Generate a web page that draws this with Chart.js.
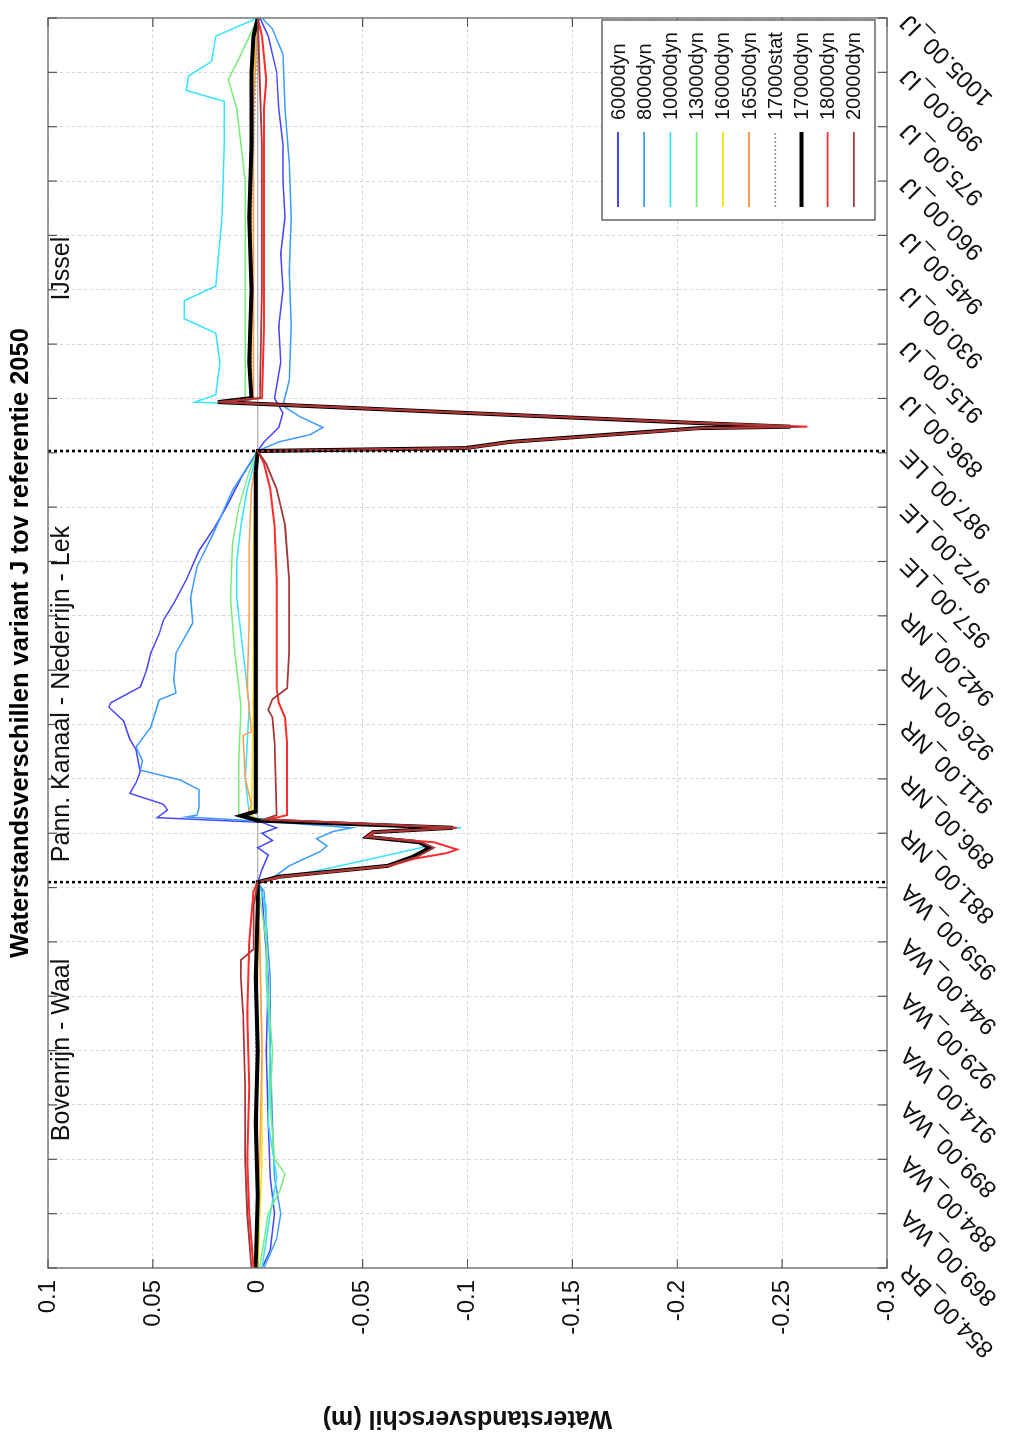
<!DOCTYPE html>
<html>
<head>
<meta charset="utf-8">
<title>Waterstandsverschillen variant J</title>
<script src="https://cdn.jsdelivr.net/npm/chart.js@4.4.0/dist/chart.umd.min.js"></script>
<style>
  html, body { margin: 0; padding: 0; background: #fff; overflow: hidden; }
  /* the figure is shown turned a quarter turn, like the reference */
  #wrap { position: absolute; left: 0; top: 1434px; width: 1434px; height: 1014px;
          transform-origin: 0 0; transform: rotate(-90deg); }
</style>
</head>
<body>
<div id="wrap"><canvas id="chart" width="1434" height="1014"></canvas></div>
<script>
// ===================
// Data
// ===================
const tickLabels = [
  '854.00_BR', '869.00_WA', '884.00_WA', '899.00_WA', '914.00_WA', '929.00_WA', '944.00_WA', '959.00_WA',
  '881.00_NR', '896.00_NR', '911.00_NR', '926.00_NR', '942.00_NR', '957.00_LE', '972.00_LE', '987.00_LE',
  '896.00_IJ', '915.00_IJ', '930.00_IJ', '945.00_IJ', '960.00_IJ', '975.00_IJ', '990.00_IJ', '1005.00_IJ'
];
const tickStep = 15;              // locations between two labels
const lastLocation = 345;

const branchNames = ['Bovenrijn - Waal', 'Pann. Kanaal - Nederrijn - Lek', 'IJssel'];
const branchTextAt = [35, 112, 267];
const branchBounds = [106.5, 225.5];

const seriesNames = ['6000dyn', '8000dyn', '10000dyn', '13000dyn', '16000dyn', '16500dyn',
                     '17000stat', '17000dyn', '18000dyn', '20000dyn'];
const seriesColors = ['#4646ff', '#3b9bff', '#35e3ff', '#78ec78', '#f2e400', '#ff9b50',
                      '#9c9c9c', '#000000', '#ff2b2b', '#a23838'];

// [location, difference (m)]
const s6000 = [[0,-0.002],[5,-0.006],[15,-0.008],[25,-0.006],[40,-0.005],[60,-0.004],[80,-0.005],[95,-0.003],[104,-0.002],
  [106.5,0],[110,-0.002],[114,-0.005],[116,0],[118,-0.007],[120,-0.002],[121.5,-0.009],[123,-0.002],[124.3,0.048],[126.4,0.043],
  [128,0.045],[131,0.061],[134,0.058],[137,0.056],[143,0.058],[146,0.061],[151,0.064],[154.8,0.071],[156,0.070],[160.4,0.056],
  [165,0.053],[169.7,0.051],[175,0.047],[178.8,0.045],[183.5,0.040],[190,0.034],[198,0.028],[204,0.021],[210,0.015],[218,0.008],
  [225.5,0],[228,-0.003],[232,-0.010],[236,-0.012],[240,-0.008],[250,-0.011],[260,-0.010],[270,-0.012],[280,-0.011],[290,-0.013],
  [300,-0.012],[310,-0.012],[320,-0.010],[330,-0.009],[340,-0.005],[345,-0.001]];
const s8000 = [[0,-0.003],[8,-0.009],[15,-0.011],[25,-0.008],[40,-0.007],[60,-0.006],[80,-0.006],[95,-0.004],[104,-0.003],
  [106.5,0],[108,-0.008],[111,-0.015],[115,-0.030],[116.5,-0.033],[118.5,-0.028],[120.5,-0.036],[121.5,-0.045],[123,-0.010],
  [124.5,0.034],[125,0.029],[127,0.028],[132,0.028],[134.7,0.037],[137.4,0.056],[140,0.055],[143.8,0.058],[149.3,0.051],
  [156.8,0.047],[158.7,0.039],[162.3,0.040],[169.7,0.039],[178,0.031],[185,0.032],[193.5,0.029],[203,0.021],[214.7,0.012],
  [225.5,0],[228,-0.010],[230,-0.025],[232,-0.031],[235,-0.020],[238,-0.012],[245,-0.015],[260,-0.016],[275,-0.015],
  [290,-0.016],[305,-0.015],[320,-0.013],[335,-0.012],[342,-0.007],[345,-0.002]];
const s10000 = [[0,-0.002],[15,-0.006],[25,-0.009],[40,-0.005],[60,-0.006],[80,-0.004],[100,-0.004],
  [106.5,0],[108,-0.015],[112,-0.047],[115,-0.070],[116.5,-0.082],[118,-0.075],[119,-0.052],[120.3,-0.055],[121.5,-0.097],
  [124,0],[125,0.004],[135,0.006],[145,0.005],[155,0.004],[165,0.006],[175,0.008],[185,0.010],[195,0.010],[205,0.008],[215,0.005],
  [225.5,0],[226.3,-0.098],[228,-0.118],[231.8,-0.208],[232.2,-0.250],[233.2,-0.208],[236,-0.098],[239,0.030],[241,0.020],
  [250,0.018],[258,0.020],[262,0.035],[267,0.035],[271,0.020],[290,0.017],[310,0.016],[322,0.016],[325,0.034],[329,0.033],
  [333,0.022],[340,0.020],[345,0]];
const s13000 = [[0,-0.001],[15,-0.005],[22,-0.011],[26,-0.013],[30,-0.008],[45,-0.006],[60,-0.007],[75,-0.005],[90,-0.004],
  [106.5,0],[108,-0.010],[111,-0.062],[113.5,-0.074],[116,-0.082],[117.5,-0.077],[119,-0.052],[120.3,-0.055],[121.5,-0.093],
  [123.5,0],[125,0.009],[140,0.009],[155,0.008],[170,0.011],[185,0.013],[200,0.012],[210,0.009],[220,0.004],
  [225.5,0],[226.3,-0.099],[228,-0.120],[231.8,-0.210],[232.2,-0.256],[233.2,-0.210],[236,-0.099],[239,0.019],[240.1,0.006],
  [260,0.006],[300,0.006],[320,0.010],[328,0.014],[335,0.008],[345,0]];
const s16000 = [[0,0],[30,-0.002],[60,-0.002],[90,-0.001],
  [106.5,0],[108,-0.010],[111,-0.062],[113.5,-0.074],[116,-0.082],[117.5,-0.077],[119,-0.052],[120.3,-0.055],[121.5,-0.093],
  [123.5,0],[125,0.003],[160,0.002],[200,0.002],[220,0.001],
  [225.5,0],[226.3,-0.099],[228,-0.120],[231.8,-0.210],[232.2,-0.254],[233.2,-0.210],[236,-0.099],[239,0.019],[240.1,0.003],
  [280,0.003],[320,0.003],[345,0]];
const s16500 = [[0,0.001],[30,-0.001],[60,-0.002],[90,-0.001],
  [106.5,0],[108,-0.010],[111,-0.062],[113.5,-0.074],[116,-0.082],[117.5,-0.077],[119,-0.052],[120.3,-0.055],[121.5,-0.093],
  [123.5,0],[125,0.005],[128,0.003],[135,0.006],[147,0.007],[148,0.003],[160,0.005],[180,0.004],[200,0.004],[215,0.003],
  [225.5,0],[226.3,-0.099],[228,-0.120],[231.8,-0.210],[232.2,-0.254],[233.2,-0.210],[236,-0.099],[239,0.019],[240.1,0.002],
  [280,0.002],[320,0.002],[345,0]];
const s17000stat = [[0,0.001],[30,0],[60,0.001],[90,0],
  [106.5,0],[108,-0.010],[111,-0.062],[113.5,-0.074],[116,-0.082],[117.5,-0.077],[119,-0.052],[120.3,-0.055],[121.5,-0.093],
  [123.5,0],[126,0.001],[180,0.001],[220,0.001],
  [225.5,0],[226.3,-0.099],[228,-0.120],[231.8,-0.210],[232.2,-0.254],[233.2,-0.210],[236,-0.099],[239,0.019],[240.1,0.003],
  [290,0.003],[345,0]];
const s17000dyn = [[0,0.001],[20,0],[40,0.001],[60,0],[80,0.001],[100,0],
  [106.5,0],[108,-0.010],[111,-0.062],[113.5,-0.074],[116,-0.082],[117.5,-0.077],[119,-0.052],[120.3,-0.055],[121.5,-0.093],
  [123.5,0],[124.8,0.008],[126,0.001],[135,0.001],[160,0.001],[190,0.001],[220,0.001],
  [225.5,0],[226.3,-0.099],[228,-0.120],[231.8,-0.210],[232.2,-0.254],[233.2,-0.210],[236,-0.099],[239,0.019],[240.1,0.003],
  [250,0.004],[270,0.003],[290,0.004],[310,0.003],[330,0.003],[340,0.002],[345,0]];
const s18000 = [[0,0.002],[15,0.004],[30,0.005],[50,0.004],[70,0.005],[90,0.004],[104,0.002],
  [106.5,0],[108,-0.012],[111,-0.063],[113,-0.075],[114.5,-0.090],[115.5,-0.095],[117.5,-0.084],[119,-0.052],[120.3,-0.055],
  [121.5,-0.095],[123.8,-0.005],[125,-0.014],[135,-0.014],[145,-0.014],[152,-0.013],[156,-0.010],[160,-0.009],[170,-0.009],
  [190,-0.009],[205,-0.008],[215,-0.006],[222,-0.003],
  [225.5,0],[226.3,-0.100],[228,-0.121],[231.8,-0.212],[232.2,-0.262],[233.2,-0.212],[236,-0.100],[239,0.018],[240.1,-0.002],
  [260,-0.003],[290,-0.003],[320,-0.003],[328,-0.004],[340,-0.002],[345,0]];
const s20000 = [[0,0.003],[15,0.005],[30,0.006],[50,0.006],[70,0.007],[80,0.008],[85,0.008],[88,0.002],[100,0.002],
  [106.5,0],[108,-0.010],[111,-0.062],[113.5,-0.076],[116,-0.084],[117.5,-0.078],[119,-0.053],[120.3,-0.056],[121.5,-0.094],
  [123.8,-0.003],[125,-0.009],[145,-0.008],[152,-0.007],[154,-0.005],[157,-0.007],[160,-0.014],[170,-0.015],[190,-0.015],
  [205,-0.013],[215,-0.009],[222,-0.004],
  [225.5,0],[226.3,-0.099],[228,-0.120],[231.8,-0.211],[232.2,-0.258],[233.2,-0.211],[236,-0.099],[239,0.019],[240.1,-0.001],
  [270,-0.002],[310,-0.002],[345,0]];

const seriesData = [s6000, s8000, s10000, s13000, s16000, s16500, s17000stat, s17000dyn, s18000, s20000];
const seriesWidths = [1.5, 1.5, 1.5, 1.5, 1.5, 1.5, 1.5, 4, 2, 1.8];

// ===================
// Extra drawing: title, frame, separators, legend
// ===================
const figurePlugin = {
  id: 'figurePlugin',
  beforeDatasetsDraw(chart) {
    const { ctx, chartArea: a, scales: { y } } = chart;
    const y0 = y.getPixelForValue(0);
    ctx.save();
    ctx.strokeStyle = '#a0a0a0';
    ctx.lineWidth = 1;
    ctx.beginPath(); ctx.moveTo(a.left, y0); ctx.lineTo(a.right, y0); ctx.stroke();
    ctx.restore();
  },
  afterDatasetsDraw(chart) {
    const { ctx, chartArea: a, scales: { x, y } } = chart;
    ctx.save();
    // branch separators
    ctx.strokeStyle = '#000';
    ctx.lineWidth = 2.5;
    ctx.setLineDash([3, 3]);
    branchBounds.forEach(b => {
      const px = x.getPixelForValue(b);
      ctx.beginPath(); ctx.moveTo(px, a.top); ctx.lineTo(px, a.bottom); ctx.stroke();
    });
    ctx.setLineDash([]);
    // frame
    ctx.strokeStyle = '#7a7a7a';
    ctx.lineWidth = 1.5;
    ctx.strokeRect(a.left, a.top, a.right - a.left, a.bottom - a.top);
    // inner tick marks
    ctx.strokeStyle = '#555';
    ctx.lineWidth = 1.2;
    x.ticks.forEach(t => {
      const px = x.getPixelForValue(t.value);
      ctx.beginPath();
      ctx.moveTo(px, a.bottom); ctx.lineTo(px, a.bottom - 9);
      ctx.moveTo(px, a.top); ctx.lineTo(px, a.top + 9);
      ctx.stroke();
    });
    y.ticks.forEach(t => {
      const py = y.getPixelForValue(t.value);
      ctx.beginPath();
      ctx.moveTo(a.left, py); ctx.lineTo(a.left + 9, py);
      ctx.moveTo(a.right, py); ctx.lineTo(a.right - 9, py);
      ctx.stroke();
    });
    // branch names
    ctx.fillStyle = '#111';
    ctx.font = '25px "Liberation Sans", Arial, sans-serif';
    ctx.textBaseline = 'top';
    ctx.textAlign = 'left';
    branchNames.forEach((n, i) => ctx.fillText(n, x.getPixelForValue(branchTextAt[i]), a.top + 2));
    ctx.restore();
  },
  afterDraw(chart) {
    const { ctx, chartArea: a } = chart;
    ctx.save();
    // title
    ctx.fillStyle = '#000';
    ctx.font = 'bold 25.5px "Liberation Sans", Arial, sans-serif';
    ctx.textAlign = 'center';
    ctx.textBaseline = 'middle';
    ctx.fillText('Waterstandsverschillen variant J tov referentie 2050', (a.left + a.right) / 2, 21);
    // legend
    const bx = a.right - 202, by = a.bottom - 285, bw = 200, bh = 273;
    ctx.fillStyle = '#fff';
    ctx.fillRect(bx, by, bw, bh);
    ctx.strokeStyle = '#666';
    ctx.lineWidth = 1.5;
    ctx.strokeRect(bx, by, bw, bh);
    ctx.font = '20px "Liberation Sans", Arial, sans-serif';
    ctx.textAlign = 'left';
    seriesNames.forEach((n, i) => {
      const ry = by + 16 + i * 26.2;
      ctx.strokeStyle = seriesColors[i];
      ctx.lineWidth = i === 7 ? 4 : 1.8;
      ctx.setLineDash(i === 6 ? [2, 2] : []);
      ctx.beginPath(); ctx.moveTo(bx + 13, ry); ctx.lineTo(bx + 88, ry); ctx.stroke();
      ctx.setLineDash([]);
      ctx.fillStyle = '#111';
      ctx.fillText(n, bx + 100, ry + 1);
    });
    ctx.restore();
  }
};

// ===================
// Chart
// ===================
const datasets = seriesNames.map((name, i) => ({
  label: name,
  data: seriesData[i].map(p => ({ x: p[0], y: p[1] })),
  borderColor: seriesColors[i],
  borderWidth: seriesWidths[i],
  borderDash: i === 6 ? [2, 2] : [],
  pointRadius: 0,
  tension: 0,
  fill: false,
  order: seriesNames.length - i
}));

new Chart(document.getElementById('chart'), {
  type: 'line',
  data: { datasets },
  plugins: [figurePlugin],
  options: {
    responsive: false,
    animation: false,
    devicePixelRatio: 1,
    layout: { padding: { left: 0, right: 18, top: 48, bottom: 0 } },
    plugins: { legend: { display: false }, tooltip: { enabled: false }, title: { display: false } },
    scales: {
      x: {
        type: 'linear',
        min: 0,
        max: lastLocation,
        // fixed axis band; the slanted labels need no side room
        afterFit: s => { s.height = 127; s.paddingLeft = 0; s.paddingRight = 0; },
        grid: { color: '#d4d4d4', lineWidth: 1, drawTicks: false },
        border: { display: false, dash: [3, 3] },
        ticks: {
          stepSize: tickStep,
          autoSkip: false,
          minRotation: 45,
          maxRotation: 45,
          padding: 8,
          color: '#111',
          font: { family: '"Liberation Sans", Arial, sans-serif', size: 24 },
          callback: v => tickLabels[Math.round(v / tickStep)]
        }
      },
      y: {
        min: -0.3,
        max: 0.1,
        afterFit: s => { s.width = 166; s.paddingTop = 0; s.paddingBottom = 0; },
        grid: { color: '#d4d4d4', lineWidth: 1, drawTicks: false },
        border: { display: false, dash: [3, 3] },
        title: {
          display: true,
          text: 'Waterstandsverschil (m)',
          color: '#111',
          padding: { top: 1, bottom: 0 },
          font: { family: '"Liberation Sans", Arial, sans-serif', size: 25, weight: 'bold' }
        },
        ticks: {
          stepSize: 0.05,
          padding: 12,
          color: '#111',
          font: { family: '"Liberation Sans", Arial, sans-serif', size: 24 },
          callback: v => String(+v.toFixed(2))
        }
      }
    }
  }
});
</script>
</body>
</html>
